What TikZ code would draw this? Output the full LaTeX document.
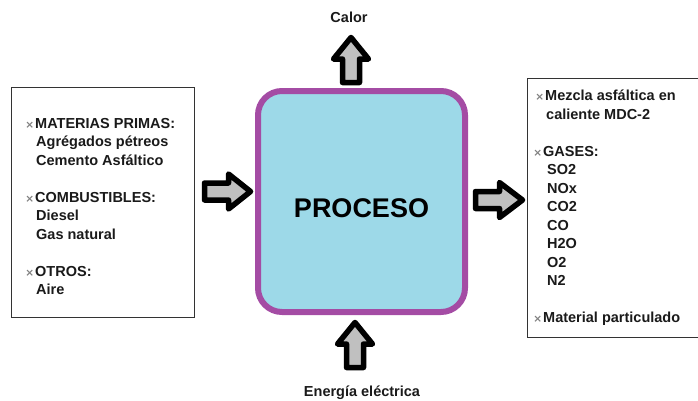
\documentclass[tikz,border=0pt]{standalone}
\usepackage{fontspec}
\setmainfont{Liberation Sans}
\newfontfamily\bulfont{DejaVu Sans}
\definecolor{procfill}{HTML}{9DD9E8}
\definecolor{procdraw}{HTML}{A44CA4}
\definecolor{arrfill}{HTML}{C0C0C0}
\definecolor{txt}{HTML}{1A1A1A}
\definecolor{boxline}{HTML}{333333}
\newcommand{\bul}{\llap{{\bulfont\fontsize{10.5}{10}\selectfont\color{gray}×}\hspace{1pt}}}
\tikzset{
  blockarr/.style={draw=black, fill=arrfill, line width=5.5pt, line join=round},
  listbox/.style={draw=boxline, line width=1pt, fill=white},
  item/.style={anchor=base west, inner sep=0pt, text=txt, font=\bfseries\fontsize{14.5}{16}\selectfont},
  lbl/.style={anchor=base, inner sep=0pt, text=txt, font=\bfseries\fontsize{14.5}{16}\selectfont},
  procbox/.style={draw=procdraw, fill=procfill, line width=6pt, rounded corners=24pt}
}
\begin{document}
\begin{tikzpicture}[x=1pt, y=-1pt]
\useasboundingbox (0,0) rectangle (698,400);
% boxes
\draw[listbox] (11,87) rectangle (194,317);
\draw[listbox] (527,78) rectangle (710,337);
\draw[procbox] (258,91) rectangle (465,312);
\node[inner sep=0pt, text=black, font=\bfseries\fontsize{27}{30}\selectfont] (proc) at (361.5,208) {PROCESO};
% arrows
% left (pointing right)
\draw[blockarr] (204.5,183) -- (228.5,183) -- (228.5,174) -- (250.5,191.5) -- (228.5,209) -- (228.5,200) -- (204.5,200) -- cycle;
% right (pointing right)
\draw[blockarr] (475.5,191.5) -- (499.5,191.5) -- (499.5,182.5) -- (522.5,200) -- (499.5,217.5) -- (499.5,208.5) -- (475.5,208.5) -- cycle;
% top (pointing up)
\draw[blockarr] (342.5,82.5) -- (342.5,59) -- (333.5,59) -- (351,37.5) -- (368.5,59) -- (359.5,59) -- (359.5,82.5) -- cycle;
% bottom (pointing up)
\draw[blockarr] (346.5,367.5) -- (346.5,344) -- (337.5,344) -- (355,322.5) -- (372.5,344) -- (363.5,344) -- (363.5,367.5) -- cycle;
% labels
\node[lbl] (calor) at (349,22) {Calor};
\node[lbl] (energia) at (362,396) {Energía eléctrica};
% left list
\node[item] (l1) at (35,128) {\bul MATERIAS PRIMAS:};
\node[item] (l2) at (36,146.5) {Agrégados pétreos};
\node[item] (l3) at (36,165) {Cemento Asfáltico};
\node[item] (l4) at (35,202) {\bul COMBUSTIBLES:};
\node[item] (l5) at (36,220.5) {Diesel};
\node[item] (l6) at (36,239) {Gas natural};
\node[item] (l7) at (35,276) {\bul OTROS:};
\node[item] (l8) at (36,294.5) {Aire};
% right list
\node[item] (r1) at (545,100.5) {\bul Mezcla asfáltica en};
\node[item] (r2) at (546,119) {caliente MDC-2};
\node[item] (r3) at (543,156) {\bul GASES:};
\node[item] (r4) at (547,174.5) {SO2};
\node[item] (r5) at (547,193) {NOx};
\node[item] (r6) at (547,211.5) {CO2};
\node[item] (r7) at (547,230) {CO};
\node[item] (r8) at (547,248.5) {H2O};
\node[item] (r9) at (547,267) {O2};
\node[item] (r10) at (547,285.5) {N2};
\node[item] (r11) at (543,322.5) {\bul Material particulado};
\end{tikzpicture}
\end{document}
